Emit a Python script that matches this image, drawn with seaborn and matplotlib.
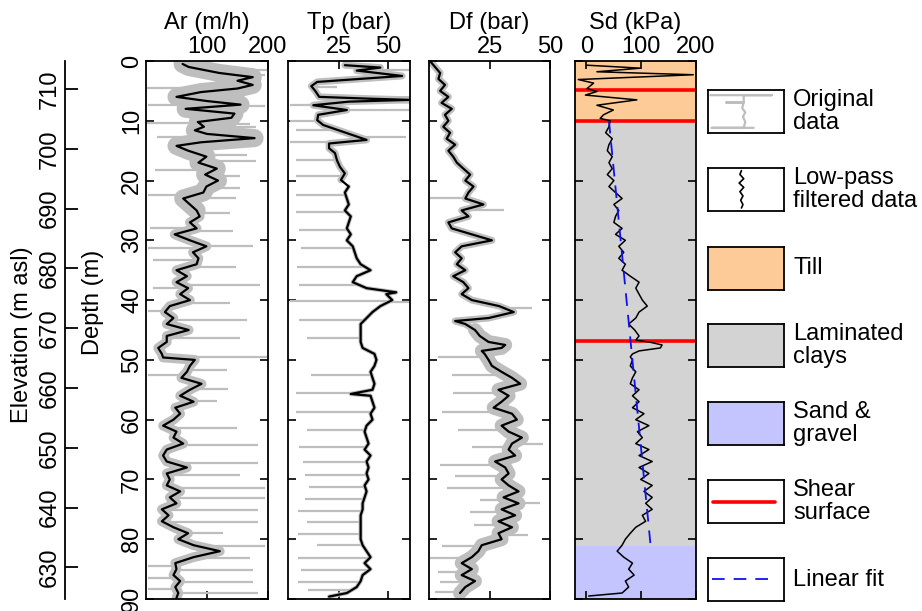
import numpy as np
import matplotlib
matplotlib.use("Agg")
import matplotlib.pyplot as plt
import seaborn as sns

# ---- smoothed (low-pass) profiles, depth in m ----
ar_depth = [0.5, 1.0, 1.5, 2.0, 2.7, 3.3, 4.0, 4.6, 5.2, 6.0, 6.7, 7.3, 8.0, 8.8, 9.5,
            10.2, 11.0, 11.6, 12.2, 12.9, 13.6, 14.2, 15, 16, 17, 18, 19, 20, 21, 22,
            23, 24, 25, 26, 27, 28, 29, 30, 31, 32, 33, 34, 35, 36, 37, 38, 39, 40,
            41, 42, 43, 44, 45, 46, 47, 48, 49, 49.6, 50, 51, 52, 53, 54, 55, 56, 57,
            58, 59, 60, 61, 62, 63, 64, 65, 66, 67, 68, 69, 70, 71, 72, 73, 74, 75,
            76, 77, 78, 79, 80, 81, 82, 83, 84, 85, 86, 87, 88, 89, 89.8]
ar_value = [60, 70, 95, 120, 175, 150, 175, 150, 90, 50, 100, 155, 65, 145, 140,
            85, 95, 80, 100, 178, 90, 50, 69, 99, 86, 116, 97, 118, 99, 94,
            61, 72, 83, 88, 72, 83, 47, 72, 99, 77, 86, 83, 50, 67, 50, 69, 56, 72,
            39, 31, 45, 34, 70, 34, 34, 20, 26, 28, 80, 72, 67, 58, 91, 72, 56, 78,
            48, 56, 45, 28, 50, 45, 61, 34, 28, 34, 67, 34, 39, 34, 56, 39, 50, 26,
            37, 26, 45, 69, 53, 78, 121, 78, 48, 50, 45, 56, 48, 53, 50]

tp_depth = [0.7, 1.1, 1.6, 2.5, 3.5, 4.2, 5.0, 6.0, 6.3, 6.5, 6.8, 7.4, 8.2, 9.0, 9.9,
            10.7, 11.5, 12.4, 13.2, 13.8, 14.6, 15.4, 16.6, 17.7, 18.8, 19.9, 21, 22,
            23, 24, 25, 26, 27, 28, 29, 30, 31, 32, 33, 34, 35, 36, 37, 38, 38.7, 39,
            40, 41, 42, 43, 44, 45, 46, 47, 48, 49, 50, 51, 52, 53, 54, 55, 55.7, 56,
            57, 58, 59, 60, 61, 62, 63, 64, 65, 66, 67, 68, 69, 70, 71, 72, 73, 74,
            75, 76, 77, 78, 79, 80, 81, 82, 83, 84, 85, 86, 87, 88, 89, 89.6]
tp_value = [28, 46, 34, 57, 14, 11, 13, 15, 40, 61, 30, 12, 29, 14.5, 14,
            17, 24, 32, 39, 20, 20, 23, 24, 25.5, 28, 26, 30, 28,
            29, 30, 28, 31, 30, 29, 31, 29, 32, 33, 34, 36, 41, 34, 32, 39, 54, 49,
            52, 46, 42, 39, 36, 36, 36, 36, 37, 43, 44, 43, 41, 42, 43, 42, 31, 41,
            42, 43, 41, 42, 39, 38, 39, 40, 38, 41, 39, 40, 39, 40, 38, 39, 38, 37,
            37, 36, 36, 36, 36, 36, 37, 39, 41, 38, 41, 37, 36, 34, 29, 20]

df_depth = [0, 1, 2, 3, 4, 5, 6, 7, 8, 9, 10, 11, 12, 13, 14, 15, 16, 17, 18, 19, 20,
            21, 22, 23, 24, 25, 26, 27, 28, 29, 30, 31, 32, 33, 34, 35, 36, 37, 38,
            39, 40, 41, 42, 43, 43.5, 44, 45, 46, 47, 47.5, 48, 48.5, 49, 50, 51, 52,
            53, 54, 55, 56, 57, 58, 59, 60, 61, 62, 63, 64, 65, 66, 67, 68, 69, 70,
            71, 72, 73, 74, 75, 76, 77, 78, 79, 80, 81, 82, 83, 84, 85, 86, 87, 88, 89]
df_value = [0.4, 2.5, 4.6, 3.9, 6.6, 4.6, 8, 5.2, 9.4, 6.6, 8, 5.9, 8.7, 7.3, 10.8, 8,
            10, 11.5, 14.2, 17, 15, 18.4, 16.3, 15, 22.5, 13.5, 16.3, 8, 9.4, 17.7,
            26, 13.5, 10.8, 13.5, 11.5, 15, 10, 14.2, 16.3, 13.5, 17.7, 29, 35, 24.6,
            10.8, 15, 19, 21, 24.6, 31.5, 30, 21.8, 23, 24.6, 26, 30, 34.3, 37.7,
            28.7, 32.9, 30, 26.7, 34.3, 36.3, 30, 32.9, 38.4, 34.3, 32.9, 35.6, 27.3,
            31.5, 32.9, 30, 32.9, 37, 30.8, 37, 30, 35.6, 28.7, 34.3, 28.7, 30, 21.8,
            20.4, 17.7, 13.5, 17.7, 13.5, 19, 15, 12.8]

sd_depth = [0.7, 1.0, 1.2, 1.8, 2.3, 3.1, 3.7, 4.6, 5.1, 5.7, 6.5, 7.4, 8.2, 9.0, 9.6,
            10, 11, 12, 13, 14, 15, 16, 17, 18, 19, 20, 21, 22, 23, 24, 25, 26, 27,
            28, 29, 30, 31, 32, 33, 34, 35, 36, 37, 38, 39, 40, 41, 42, 43, 44, 45,
            46, 46.7, 47, 47.5, 48, 48.5, 49, 49.5, 50, 51, 52, 53, 54, 55, 56, 57,
            58, 59, 60, 61, 62, 63, 64, 65, 66, 67, 68, 69, 70, 71, 72, 73, 74, 75,
            76, 77, 78, 79, 80, 81, 82, 83, 84, 85, 86, 87, 88, 89, 89.5]
sd_value = [0, 60, 98, 19, 195, -15, 13, 1, 19, -2, 92, 19, 49, 31, 25,
            43, 41, 35, 47, 41, 38, 47, 41, 47, 38, 50, 41, 53, 65, 50, 59, 53, 50,
            65, 53, 71, 59, 68, 59, 71, 65, 80, 96, 90, 96, 102, 111, 96, 90, 77, 88,
            96, 90, 114, 138, 135, 96, 84, 80, 84, 80, 90, 84, 80, 96, 84, 96,
            84, 105, 90, 114, 93, 102, 90, 114, 96, 120, 96, 114, 99, 120, 105, 120,
            108, 120, 102, 108, 90, 80, 71, 65, 56, 68, 84, 77, 87, 71, 77, 65, 4]

# ---- single-sample excursions of the original data ----
ar_spike_depth = [1.5, 2.3, 4.5, 7.4, 7.6, 10.3, 10.5, 11.0, 12.7, 13.6, 15.7, 16.8,
                  18.2, 19.3, 21.3, 22.4, 23.0, 25.5, 28.0, 28.5, 31.0, 31.3, 33.3,
                  34.4, 37.5, 38.0, 40.5, 41.9, 43.3, 46.4, 49.5, 51.7, 52.5, 54.8,
                  56.9, 61.4, 64.2, 67.3, 69.2, 71.5, 73.1, 75.1, 77.1, 79.0, 81.1,
                  83.2, 84.5, 85.1, 86.5, 87.1, 88.3, 89.0]
ar_spike_value = [198, 195, 2, 3, 195, 2, 170, 180, 18, 176, 165, 180,
                  15, 154, 154, 4, 148, 138, 7, 143, 176, 4, 12,
                  148, 187, 12, 138, 4, 165, 154, 198, 132, 4, 135,
                  116, 149, 184, 184, 154, 195, 195, 184, 184, 127, 195,
                  170, 3, 176, 4, 176, 3, 184]

tp_spike_depth = [1.5, 4.3, 7.4, 8.2, 10.1, 11.5, 12.7, 13.5, 16.6, 19.3, 22.4, 25.2,
                  28.3, 31.3, 34.4, 37.5, 40.2, 40.3, 43.3, 46.4, 52.5, 55.6, 58.7,
                  61.7, 64.6, 67.1, 69.2, 71.2, 73.2, 75.2, 77.1, 79.1, 81.0, 83.1,
                  85.1, 87.1, 88.5]
tp_spike_value = [61, 24, 0, 61, 0, 3.5, 59, 0, 3.5, 3.5, 3.5, 3.5,
                  5, 6, 4, 5, 0, 61, 5, 8.6, 11, 3.5, 3.5,
                  8.6, 5, 7, 7.8, 10, 7.8, 4.4, 8.6, 4.4, 13.7, 4.4,
                  6, 4.4, 9.5]

df_spike_depth = [23.0, 24.9, 41.4, 49.5, 52.5, 55.6, 58.7, 61.7, 64.0, 64.5, 67.6,
                  69.5, 71.5, 73.4, 74.0, 75.4, 77.6, 79.3, 81.2, 83.2, 85.4, 87.1,
                  88.8]
df_spike_value = [0.4, 31, 42.5, 3.9, 9.4, 10, 5.2, 12, 47, 17.7, 4.6,
                  10.8, 7.3, 21, 46, 17, 18.4, 41, 5.2, 0.4, 3.9, 4.6,
                  2.5]

# ---- interpretation of the Sd profile ----
layer_names = ["Till", "Laminated clays", "Sand & gravel"]
layer_top = [0, 10, 81.1]
layer_base = [10, 81.1, 90]
layer_colors = ["#FDCB97", "#D3D3D3", "#C4C4FF"]
shear_depth = [4.85, 10.0, 46.9]
fit_depth = [10, 81]
fit_sd = [41, 117]

top_elevation = 714.7
depth_ticks = list(range(0, 91, 10))
elev_ticks = list(range(630, 711, 10))

GRAY = "#BEBEBE"
FS = 17

sns.set_style("ticks")
plt.rcParams["font.family"] = ["Liberation Sans", "DejaVu Sans"]
plt.rcParams["font.size"] = FS
plt.rcParams["axes.linewidth"] = 1.3
for key in ["text.color", "axes.labelcolor", "xtick.color", "ytick.color",
            "axes.edgecolor"]:
    plt.rcParams[key] = "black"

W, H = 922, 611
fig = plt.figure(figsize=(W / 100, H / 100), dpi=100)


def px_axes(x0, x1, y0, y1):
    return fig.add_axes([x0 / W, 1 - y1 / H, (x1 - x0) / W, (y1 - y0) / H])


def profile(ax, depth, value, xlim, xticks, title, band=None, spikes=None, lw=1.6):
    # band: list of (depth_from, depth_to, linewidth) for the grey scatter of raw data
    if band:
        d = np.asarray(depth)
        v = np.asarray(value)
        for d0, d1, blw in band:
            m = (d >= d0) & (d <= d1)
            sns.lineplot(x=v[m], y=d[m], orient="y", estimator=None, color=GRAY,
                         lw=blw, ax=ax)
        sp_d, sp_v = spikes
        base = np.interp(sp_d, depth, value)
        ax.hlines(sp_d, base, sp_v, color=GRAY, lw=1.6)
    sns.lineplot(x=value, y=depth, orient="y", estimator=None, color="black",
                 lw=lw, ax=ax)
    ax.set_xlim(xlim)
    ax.set_ylim(90, 0)
    ax.set_xlabel("")
    ax.set_ylabel("")
    ax.set_xticks(xticks)
    ax.set_xticklabels([str(t) for t in xticks])
    ax.set_yticks(depth_ticks)
    ax.tick_params(direction="in", length=6, width=1.2, top=True, bottom=True,
                   left=True, right=True, labeltop=True, labelbottom=False,
                   labelleft=False, pad=2, labelsize=FS)
    ax.text(0.5, 1 + 38 / 538, title, transform=ax.transAxes, ha="center",
            va="center", fontsize=FS)


ax_ar = px_axes(146, 268, 61, 599)
profile(ax_ar, ar_depth, ar_value, (0, 200), [100, 200], "Ar (m/h)",
        band=[(0, 25, 13), (25, 90, 7)], spikes=(ar_spike_depth, ar_spike_value))
ax_ar.tick_params(axis="y", labelleft=True, labelrotation=90)
for lab in ax_ar.get_yticklabels():
    lab.set_va("center")

ax_tp = px_axes(288, 410, 61, 599)
profile(ax_tp, tp_depth, tp_value, (-0.8, 61), [25, 50], "Tp (bar)",
        band=[(0, 20, 5), (20, 90, 3)], spikes=(tp_spike_depth, tp_spike_value))

ax_df = px_axes(429, 550, 61, 599)
profile(ax_df, df_depth, df_value, (0, 50), [25, 50], "Df (bar)",
        band=[(0, 45, 5), (45, 90, 10)], spikes=(df_spike_depth, df_spike_value))

ax_sd = px_axes(575, 696, 61, 599)
for top, base, col in zip(layer_top, layer_base, layer_colors):
    ax_sd.axhspan(top, base, color=col, lw=0, zorder=0)
for d in shear_depth:
    ax_sd.axhline(d, color="#FF0000", lw=2.6, zorder=1)
ax_sd.plot(fit_sd, fit_depth, color="#1010F0", lw=1.3, dashes=(7, 5), zorder=3)
profile(ax_sd, sd_depth, sd_value, (-21, 200), [0, 100, 200], "Sd (kPa)", lw=1.1)

# elevation axis
ax_el = px_axes(65, 66, 61, 599)
ax_el.set_ylim(top_elevation - 90, top_elevation)
ax_el.set_yticks(elev_ticks)
ax_el.set_xticks([])
for s in ["top", "right", "bottom"]:
    ax_el.spines[s].set_visible(False)
ax_el.patch.set_visible(False)
ax_el.tick_params(axis="y", direction="in", length=9, width=1.3, labelrotation=90,
                  pad=3, labelsize=FS)
for lab in ax_el.get_yticklabels():
    lab.set_va("center")

fig.text(22 / W, 1 - 335 / H, "Elevation (m asl)", rotation=90, ha="center",
         va="center", fontsize=FS)
fig.text(93 / W, 1 - 302 / H, "Depth (m)", rotation=90, ha="center",
         va="center", fontsize=FS)

# legend column
leg_tops = [90, 168, 247, 324, 402, 480, 558]
leg_labels = ["Original\ndata", "Low-pass\nfiltered data", "Till", "Laminated\nclays",
              "Sand &\ngravel", "Shear\nsurface", "Linear fit"]
leg_faces = ["white", "white"] + layer_colors + ["white", "white"]
raw_leg_x = [0.03, 0.84, 0.47, 0.47, 0.24, 0.47, 0.45, 0.49, 0.46, 0.49, 0.47, 0.05, 0.6]
raw_leg_y = [0.12, 0.12, 0.12, 0.29, 0.29, 0.29, 0.42, 0.52, 0.62, 0.74, 0.88, 0.88, 0.88]
lp_leg_x = [0.44, 0.42, 0.47, 0.41, 0.47, 0.42, 0.46, 0.43, 0.46, 0.44]
lp_leg_y = [0.06, 0.15, 0.25, 0.35, 0.45, 0.55, 0.65, 0.75, 0.85, 0.93]
for i, (top, lab, face) in enumerate(zip(leg_tops, leg_labels, leg_faces)):
    lax = px_axes(708, 784, top, top + 43)
    lax.set_facecolor(face)
    lax.set_xlim(0, 1)
    lax.set_ylim(1, 0)
    lax.set_xticks([])
    lax.set_yticks([])
    for s in lax.spines.values():
        s.set_linewidth(1.3)
    if i == 0:
        lax.plot(raw_leg_x, raw_leg_y, color=GRAY, lw=1.6)
    elif i == 1:
        lax.plot(lp_leg_x, lp_leg_y, color="black", lw=1.2)
    elif i == 5:
        lax.plot([0.07, 0.88], [0.5, 0.5], color="#FF0000", lw=2.6)
    elif i == 6:
        lax.plot([0.05, 0.88], [0.48, 0.48], color="#1010F0", lw=1.3, dashes=(7, 5))
    fig.text(793 / W, 1 - (top + 21.5) / H, lab, ha="left", va="center",
             fontsize=FS, linespacing=1.1)

fig.savefig("out.png", dpi=100)
